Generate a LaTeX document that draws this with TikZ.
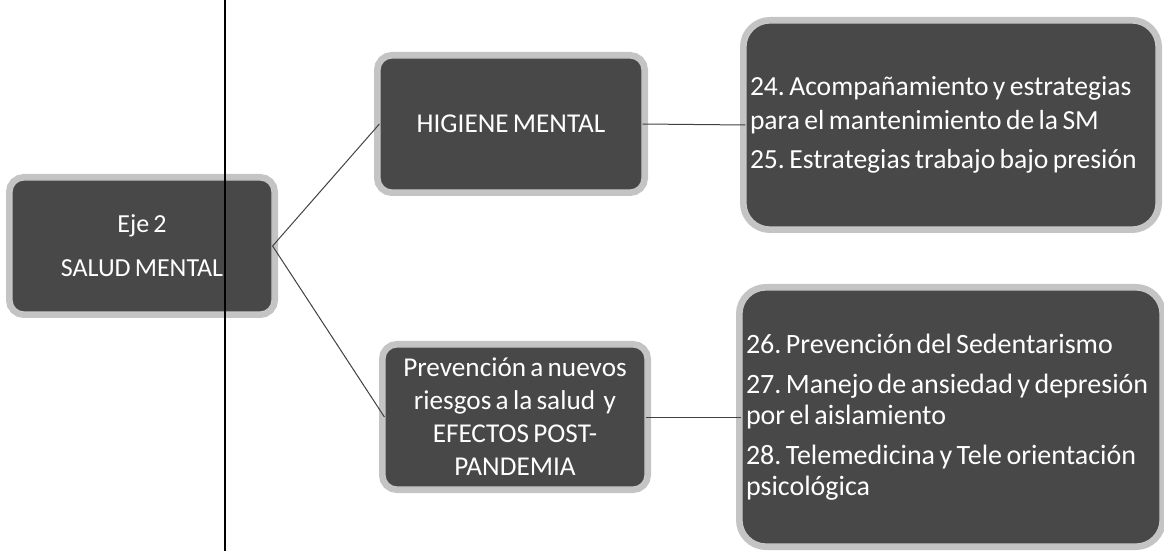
\documentclass[tikz,border=0pt]{standalone}
\usepackage{fontspec}
\setmainfont{Carlito}[WordSpace=0.7]
\usepackage{tikz}
\definecolor{boxgray}{HTML}{484848}
\definecolor{boxrim}{HTML}{C8C8C8}
\definecolor{glowgray}{HTML}{C4C4C4}

\begin{document}
\frenchspacing\hyphenpenalty=10000 \exhyphenpenalty=10000
\begin{tikzpicture}[x=0.5pt,y=-0.5pt,
  eje/.style={draw=boxrim,line width=0.6pt,rounded corners=6pt,
              fill=boxgray,text=white,inner sep=2pt,
              preaction={draw=glowgray,line width=6pt},
              font=\fontsize{13.6}{17}\selectfont},
  tema/.style={eje,align=center},
  lista/.style={eje,align=flush left,rounded corners=12pt},
  rama/.style={draw=black!75,line width=0.5pt},
]
  \useasboundingbox (0,0) rectangle (1164,551);

  \node[tema,minimum width=130pt,minimum height=66pt,
        font=\fontsize{13}{18}\selectfont] (eje) at (142,246) {Eje 2\\[4pt] SALUD MENTAL};
  \node[tema,minimum width=131pt,minimum height=66pt] (higiene) at (511,124) {HIGIENE MENTAL};
  \node[tema,minimum width=130pt,minimum height=70pt,
        font=\fontsize{13.6}{16.5}\selectfont] (prev) at (515,417)
       {Prevención a nuevos\\ riesgos a la salud\ \ y\\ EFECTOS POST-\\ PANDEMIA};

  \node[lista,minimum width=204pt,minimum height=102pt,text width=201pt,
        font=\fontsize{13.8}{17}\selectfont] (hig_items) at (951,125)
       {24. Acompañamiento y estrategias\\ para el mantenimiento de la SM\\[2.5pt]
        25. Estrategias trabajo bajo presión};
  \node[lista,minimum width=208pt,minimum height=127pt,text width=205pt,
        font=\fontsize{14}{15.5}\selectfont] (prev_items) at (951,417)
       {26. Prevención del Sedentarismo\\[4.5pt]
        27. Manejo de ansiedad y depresión\\ por el aislamiento\\[4.5pt]
        28. Telemedicina y Tele orientación\\ psicológica};

  \draw[rama] (eje.east) -- (higiene.west);
  \draw[rama] (eje.east) -- (prev.west);
  \draw[rama] (higiene.east) -- (hig_items.west);
  \draw[rama] (prev.east) -- (prev_items.west);

  % margin line of the scan
  \draw[black,line width=0.6pt] (225,0) -- (225,551);
\end{tikzpicture}
\end{document}
